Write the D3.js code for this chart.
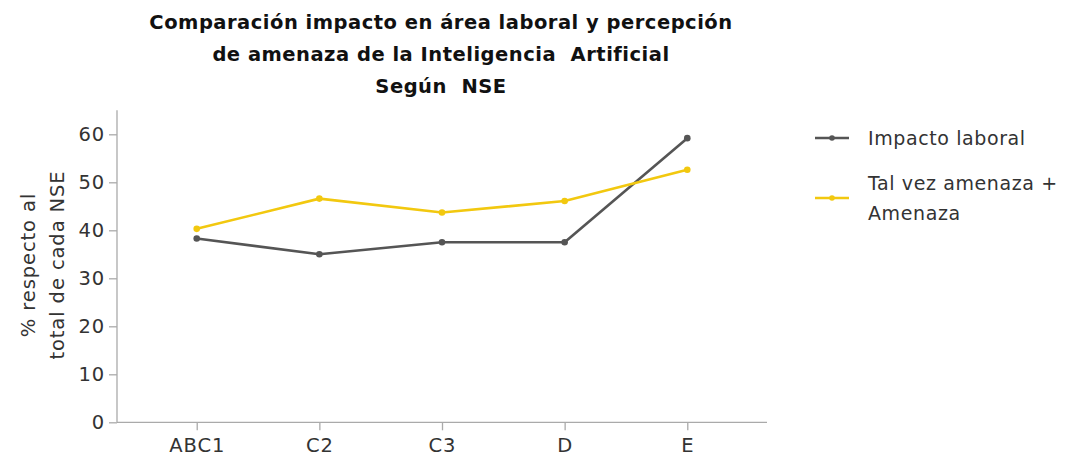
<!DOCTYPE html>
<html><head><meta charset="utf-8">
<script src="https://cdn.jsdelivr.net/npm/d3@7"></script>
<style>
body{margin:0;background:#fff;}
text{font-family:"DejaVu Sans",sans-serif;}
</style></head>
<body><svg id="c" width="1065" height="464"></svg>
<script>
const categories = ["ABC1","C2","C3","D","E"];
const impactoLaboral = [38.3,35.0,37.5,37.5,59.2];
const amenaza = [40.3,46.6,43.7,46.1,52.6];
const yTicks = [0,10,20,30,40,50,60];
const titleLines = ["Comparación impacto en área laboral y percepción","de amenaza de la Inteligencia  Artificial","Según  NSE"];
const series = [
  {name:["Impacto laboral"], values: impactoLaboral, color:"#555555"},
  {name:["Tal vez amenaza +","Amenaza"], values: amenaza, color:"#f2c80f"}
];

const svg = d3.select("#c");
const mLeft=117, mRight=767, mBottom=422.3;
const x = d3.scalePoint().domain(categories).range([mLeft,mRight]).padding(0.65);
const y = d3.scaleLinear().domain([0,65]).range([mBottom, mBottom - 65*4.8]);

// title
svg.append("g").selectAll("text").data(titleLines).join("text")
  .attr("x",441).attr("y",(d,i)=>29+i*32)
  .attr("text-anchor","middle").attr("font-size",19.5).attr("font-weight",700).attr("fill","#111")
  .attr("letter-spacing",0.5)
  .style("white-space","pre")
  .text(d=>d);

// axes
const gx = svg.append("g").attr("transform",`translate(0,${mBottom})`)
  .call(d3.axisBottom(x).tickSize(8).tickPadding(8));
gx.select(".domain").attr("d",`M${mLeft},0H${mRight}`);
const gy = svg.append("g").attr("transform",`translate(${mLeft},0)`)
  .call(d3.axisLeft(y).tickValues(yTicks).tickSize(8).tickPadding(4));
gy.select(".domain").attr("d",`M0,${mBottom}V${y(65)}`);
[gx,gy].forEach(g=>{
  g.select(".domain").attr("stroke","#aaa").attr("stroke-width",1.3);
  g.selectAll(".tick line").attr("stroke","#aaa").attr("stroke-width",1.3);
  g.selectAll(".tick text").attr("font-size",19.5).attr("fill","#333").attr("letter-spacing",0.9)
    .attr("font-family","'DejaVu Sans',sans-serif");
});

// y label
const yl = svg.append("text").attr("transform","translate(44,265) rotate(-90)")
  .attr("text-anchor","middle").attr("font-size",19.5).attr("fill","#333").attr("letter-spacing",0.9);
yl.append("tspan").attr("x",0).attr("dy","-0.45em").text("% respecto al");
yl.append("tspan").attr("x",0).attr("dy","1.45em").text("total de cada NSE");

// lines
const line = d3.line().x((d,i)=>x(categories[i])).y(d=>y(d));
series.forEach(s=>{
  svg.append("path").datum(s.values).attr("d",line).attr("fill","none")
    .attr("stroke",s.color).attr("stroke-width",2.6).attr("stroke-linejoin","round");
  svg.append("g").selectAll("circle").data(s.values).join("circle")
    .attr("cx",(d,i)=>x(categories[i])).attr("cy",d=>y(d)).attr("r",3.3).attr("fill",s.color);
});

// legend
const legY = [138, 198];
series.forEach((s,k)=>{
  const g = svg.append("g").attr("transform",`translate(0,${legY[k]})`);
  g.append("line").attr("x1",815).attr("x2",849).attr("y1",0).attr("y2",0).attr("stroke",s.color).attr("stroke-width",2.6);
  g.append("circle").attr("cx",832).attr("cy",0).attr("r",2.8).attr("fill",s.color);
  const n = s.name.length;
  g.selectAll("text").data(s.name).join("text")
    .attr("x",868).attr("y",(d,i)=>(i-(n-1)/2)*30+7)
    .attr("font-size",19).attr("fill","#333").attr("letter-spacing",0.6).text(d=>d);
});
</script></body></html>
